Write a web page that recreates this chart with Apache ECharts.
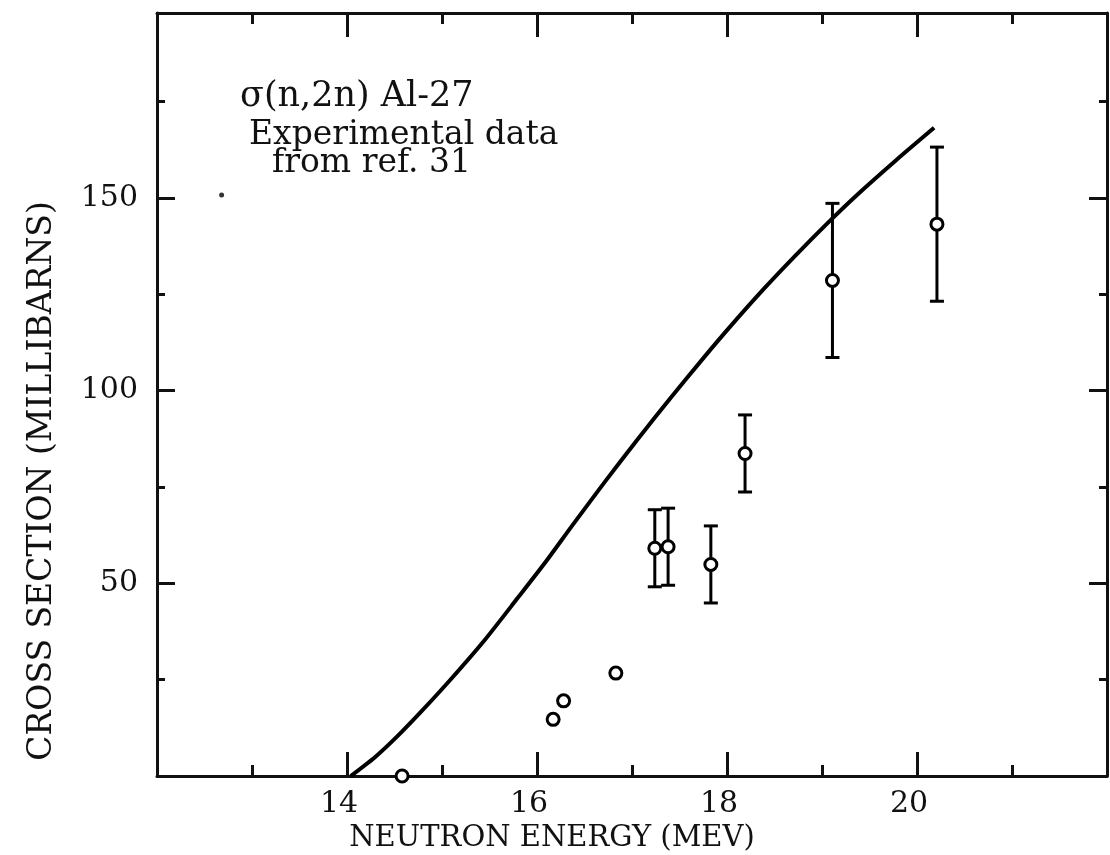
<!DOCTYPE html>
<html>
<head>
<meta charset="utf-8">
<script src="https://cdn.jsdelivr.net/npm/echarts@6/dist/echarts.min.js"></script>
<style>
  html, body { margin: 0; padding: 0; background: #fff; }
  #chart { width: 1110px; height: 855px; }
</style>
</head>
<body>
<div id="chart"></div>
<script>
// Calculated σ(n,2n) excitation function for Al-27 (neutron energy in MeV, cross section in mb)
const curveEnergy = [14.04, 14.30, 14.55, 14.80, 15.10, 15.45, 15.80, 16.08, 16.38, 16.71, 17.06, 17.41, 17.76, 18.04, 18.38, 18.73, 19.08, 19.36, 19.78, 20.18];
const curveSigma  = [0, 5.0, 10.8, 17.2, 25.3, 35.3, 46.3, 55.2, 65.3, 76.2, 87.4, 98.2, 108.7, 116.8, 126.2, 135.3, 144.0, 150.6, 159.8, 168.2];

// Measured points (ref. 31); error 0 means no error bar was given
const expEnergy = [14.58, 16.17, 16.28, 16.83, 17.24, 17.38, 17.83, 18.19, 19.11, 20.21];
const expSigma  = [0, 14.7, 19.5, 26.7, 59.1, 59.5, 54.9, 83.7, 128.6, 143.2];
const expError  = [0, 0, 0, 0, 10, 10, 10, 10, 20, 20];

// Isolated dot printed near the upper left of the frame
const dotEnergy = [12.68];
const dotSigma  = [150.8];

// Labelled ticks
const xTickLabels = [14, 16, 18, 20];
const yTickLabels = [50, 100, 150];

const FONT = '"DejaVu Serif", "Liberation Serif", serif';
const INK = '#111';

const curveData = curveEnergy.map((e, i) => [e, curveSigma[i]]);
const expData = expEnergy.map((e, i) => [e, expSigma[i], expError[i]]);
const dotData = dotEnergy.map((e, i) => [e, dotSigma[i]]);

const tickLine = { color: INK, width: 3 };

function xAxisDef(position, showLabels) {
  return {
    type: 'value', position: position, min: 12, max: 22, interval: 2,
    axisLine: { onZero: false, lineStyle: { color: INK, width: 3 } },
    axisTick: { inside: true, length: 24, lineStyle: tickLine },
    minorTick: { show: true, splitNumber: 2, length: 11, lineStyle: tickLine },
    splitLine: { show: false },
    axisLabel: {
      show: showLabels, margin: 13, color: INK, fontFamily: FONT, fontSize: 30,
      padding: [0, 16, 0, 0],
      formatter: v => xTickLabels.includes(v) ? String(v) : ''
    }
  };
}

function yAxisDef(position, showLabels) {
  return {
    type: 'value', position: position, min: 0, max: 198, interval: 50,
    axisLine: { onZero: false, lineStyle: { color: INK, width: 3 } },
    axisTick: { inside: true, length: 18, lineStyle: tickLine },
    minorTick: { show: true, splitNumber: 2, length: 8, lineStyle: tickLine },
    splitLine: { show: false },
    axisLabel: {
      show: showLabels, margin: 19, color: INK, fontFamily: FONT, fontSize: 30,
      formatter: v => yTickLabels.includes(v) ? String(v) : ''
    }
  };
}

function textEl(str, x, y, size, align, rotation) {
  return {
    type: 'text', x: x, y: y, rotation: rotation || 0,
    style: { text: str, fontFamily: FONT, fontSize: size, fill: INK,
             align: align, verticalAlign: 'middle' }
  };
}

const chart = echarts.init(document.getElementById('chart'), null, { renderer: 'canvas' });

chart.setOption({
  backgroundColor: '#fff',
  animation: false,
  grid: { left: 157, top: 13, width: 955, height: 763, containLabel: false },
  xAxis: [xAxisDef('bottom', true), xAxisDef('top', false)],
  yAxis: [yAxisDef('left', true), yAxisDef('right', false)],
  graphic: [
    textEl('CROSS SECTION (MILLIBARNS)', 42, 481, 33, 'center', Math.PI / 2),
    textEl('NEUTRON ENERGY (MEV)', 552, 838, 29, 'center'),
    textEl('σ(n,2n) Al-27', 240, 97, 35, 'left'),
    textEl('Experimental data', 249, 135, 33, 'left'),
    textEl('from ref. 31', 272, 163, 33, 'left')
  ],
  series: [
    {
      name: 'calculated',
      type: 'line',
      data: curveData,
      smooth: 0.25,
      showSymbol: false,
      symbol: 'none',
      lineStyle: { color: '#000', width: 4 },
      z: 3
    },
    {
      name: 'experimental',
      type: 'custom',
      data: expData,
      encode: { x: 0, y: 1 },
      clip: false,
      z: 4,
      renderItem: function (params, api) {
        const x = api.value(0);
        const y = api.value(1);
        const err = api.value(2);
        const c = api.coord([x, y]);
        const children = [];
        if (err > 0) {
          const top = api.coord([x, y + err]);
          const bot = api.coord([x, y - err]);
          const cap = 7;
          const s = { stroke: '#000', lineWidth: 3 };
          children.push({ type: 'line', shape: { x1: c[0], y1: top[1], x2: c[0], y2: bot[1] }, style: s });
          children.push({ type: 'line', shape: { x1: c[0] - cap, y1: top[1], x2: c[0] + cap, y2: top[1] }, style: s });
          children.push({ type: 'line', shape: { x1: c[0] - cap, y1: bot[1], x2: c[0] + cap, y2: bot[1] }, style: s });
        }
        children.push({
          type: 'circle',
          shape: { cx: c[0], cy: c[1], r: 6 },
          style: { fill: '#fff', stroke: '#000', lineWidth: 3 }
        });
        return { type: 'group', children: children };
      }
    },
    {
      name: 'dot',
      type: 'scatter',
      data: dotData,
      symbol: 'circle',
      symbolSize: 5,
      itemStyle: { color: '#000' },
      z: 3
    }
  ]
});
</script>
</body>
</html>
